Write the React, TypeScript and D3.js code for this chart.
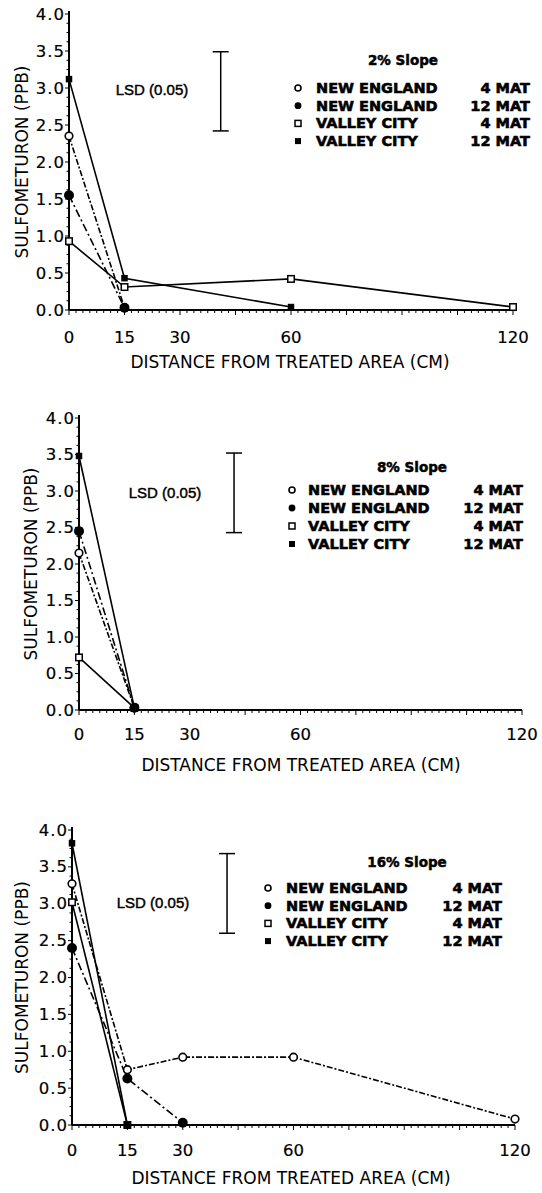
import * as d3 from 'd3';
import React from 'react';

// tick labels
const xTickValues = [0, 15, 30, 60, 120];
const yTickValues = [0, 0.5, 1, 1.5, 2, 2.5, 3, 3.5, 4];

// legend
const legendSites = ['NEW ENGLAND', 'NEW ENGLAND', 'VALLEY CITY', 'VALLEY CITY'];
const legendMats = ['4 MAT', '12 MAT', '4 MAT', '12 MAT'];
const slopeTitles = ['2% Slope', '8% Slope', '16% Slope'];

// [distance (cm), sulfometuron (ppb)]
const slope2NE4 = [[0, 2.35], [15, 0.03]];
const slope2NE12 = [[0, 1.55], [15, 0.03]];
const slope2VC4 = [[0, 0.93], [15, 0.31], [60, 0.42], [120, 0.04]];
const slope2VC12 = [[0, 3.12], [15, 0.43], [60, 0.04]];

const slope8NE4 = [[0, 2.15], [15, 0.03]];
const slope8NE12 = [[0, 2.45], [15, 0.03]];
const slope8VC4 = [[0, 0.72], [15, 0.03]];
const slope8VC12 = [[0, 3.48], [15, 0.03]];

const slope16NE4 = [[0, 3.27], [15, 0.75], [30, 0.92], [60, 0.92], [120, 0.08]];
const slope16NE12 = [[0, 2.4], [15, 0.63], [30, 0.03]];
const slope16VC4 = [[0, 3.02], [15, 0.0]];
const slope16VC12 = [[0, 3.82], [15, 0.0]];

// LSD bar: [x position (cm), low, high]
const lsd2 = [41, 2.42, 3.49];
const lsd8 = [42, 2.43, 3.52];
const lsd16 = [42, 2.6, 3.68];

const seriesBySlope = [
  [slope2NE4, slope2NE12, slope2VC4, slope2VC12],
  [slope8NE4, slope8NE12, slope8VC4, slope8VC12],
  [slope16NE4, slope16NE12, slope16VC4, slope16VC12],
];
const lsdBySlope = [lsd2, lsd8, lsd16];

// where each panel sits on the page
const layouts = [
  { left: 69, right: 513, bottom: 310, top: 14, yTitleX: 22, xLabelY: 337, xTitleY: 362, xTitleX: 290,
    lsdTextX: 152, lsdTextY: 89, legTitleX: 403, legTitleY: 60, legMarkX: 298, legTextX: 316, legMatX: 530, legRowY: 88, legRowH: 17.7 },
  { left: 79, right: 522, bottom: 710, top: 418, yTitleX: 31, xLabelY: 734, xTitleY: 765, xTitleX: 301,
    lsdTextX: 165, lsdTextY: 492, legTitleX: 412, legTitleY: 467, legMarkX: 292, legTextX: 308, legMatX: 523, legRowY: 490, legRowH: 18 },
  { left: 72, right: 515, bottom: 1125, top: 830, yTitleX: 22, xLabelY: 1150, xTitleY: 1178, xTitleX: 291,
    lsdTextX: 153, lsdTextY: 902, legTitleX: 407, legTitleY: 862, legMarkX: 268, legTextX: 286, legMatX: 502, legRowY: 888, legRowH: 17.7 },
];

const dashes = ['6,2,2,2', '8,3,2,3', null, null];
const axisFont = '"DejaVu Sans", sans-serif';

const Marker = ({ kind, x, y, big }) => {
  if (kind === 0) return <circle cx={x} cy={y} r={big ? 3.8 : 3} fill="#fff" stroke="#000" strokeWidth={1.6} />;
  if (kind === 1) return <circle cx={x} cy={y} r={big ? 5 : 3.4} fill="#000" />;
  const s = big ? 6.5 : 6;
  if (kind === 2) return <rect x={x - s / 2} y={y - s / 2} width={s} height={s} fill="#fff" stroke="#000" strokeWidth={1.5} />;
  return <rect x={x - s / 2} y={y - s / 2} width={s} height={s} fill="#000" />;
};

const Panel = ({ idx }) => {
  const L = layouts[idx];
  const series = seriesBySlope[idx];
  const lsd = lsdBySlope[idx];
  const x = d3.scaleLinear().domain([0, 120]).range([L.left, L.right]);
  const y = d3.scaleLinear().domain([0, 4]).range([L.bottom, L.top]);
  const line = d3.line().x(d => x(d[0])).y(d => y(d[1]));

  const xMinor = d3.range(0, 120.001, 1.875);
  const yMinor = d3.range(0, 4.001, 0.125);

  return (
    <g>
      {/* axes */}
      <line x1={x(0)} x2={x(0)} y1={y(0)} y2={y(4) - 3} stroke="#000" strokeWidth={2} />
      <line x1={x(0)} x2={x(120)} y1={y(0)} y2={y(0)} stroke="#000" strokeWidth={2} />
      {xMinor.map((t, i) => (
        <line key={'xt' + i} x1={x(t)} x2={x(t)} y1={y(0)} y2={y(0) + (t % 15 === 0 ? 5 : 3)} stroke="#000" strokeWidth={1} />
      ))}
      {yMinor.map((t, i) => (
        <line key={'yt' + i} x1={x(0)} x2={x(0) - (Math.abs(t * 2 - Math.round(t * 2)) < 1e-6 ? 4 : 2.5)} y1={y(t)} y2={y(t)} stroke="#000" strokeWidth={1} />
      ))}
      {xTickValues.map(t => (
        <text key={'xl' + t} x={x(t)} y={L.xLabelY} textAnchor="middle" dominantBaseline="central"
          fontFamily={axisFont} fontSize={16.5} stroke="#000" strokeWidth={0.2}>{t}</text>
      ))}
      {yTickValues.map(t => (
        <text key={'yl' + t} x={x(0) - 4} y={y(t)} textAnchor="end" dominantBaseline="central"
          fontFamily={axisFont} fontSize={16.5} letterSpacing={1} stroke="#000" strokeWidth={0.2}>{t.toFixed(1)}</text>
      ))}
      <text x={L.xTitleX} y={L.xTitleY} textAnchor="middle" dominantBaseline="central"
        fontFamily={axisFont} fontSize={17}>DISTANCE FROM TREATED AREA (CM)</text>
      <text transform={`translate(${L.yTitleX},${(y(0) + y(4)) / 2}) rotate(-90)`} textAnchor="middle"
        dominantBaseline="central" fontFamily={axisFont} fontSize={17}>SULFOMETURON (PPB)</text>

      {/* LSD */}
      <line x1={x(lsd[0])} x2={x(lsd[0])} y1={y(lsd[1])} y2={y(lsd[2])} stroke="#000" strokeWidth={1.5} />
      <line x1={x(lsd[0]) - 8} x2={x(lsd[0]) + 8} y1={y(lsd[1])} y2={y(lsd[1])} stroke="#000" strokeWidth={1.5} />
      <line x1={x(lsd[0]) - 8} x2={x(lsd[0]) + 8} y1={y(lsd[2])} y2={y(lsd[2])} stroke="#000" strokeWidth={1.5} />
      <text x={L.lsdTextX} y={L.lsdTextY} textAnchor="middle" dominantBaseline="central"
        fontFamily='"Liberation Sans", Arial, sans-serif' fontSize={15} stroke="#000" strokeWidth={0.45}>LSD (0.05)</text>

      {/* lines */}
      {series.map((s, i) => (
        <path key={'s' + i} d={line(s)} fill="none" stroke="#000" strokeWidth={1.6}
          strokeDasharray={dashes[i] || undefined} />
      ))}
      {series.map((s, i) => s.map((p, j) => (
        <Marker key={'m' + i + '-' + j} kind={i} x={x(p[0])} y={y(p[1])} big />
      )))}

      {/* legend */}
      <text x={L.legTitleX} y={L.legTitleY} textAnchor="middle" dominantBaseline="central"
        fontFamily={axisFont} fontWeight="bold" fontSize={13.5} stroke="#000" strokeWidth={0.5}>{slopeTitles[idx]}</text>
      {legendSites.map((site, i) => {
        const ry = L.legRowY + i * L.legRowH;
        return (
          <g key={'lg' + i}>
            <Marker kind={i} x={L.legMarkX} y={ry} />
            <text x={L.legTextX} y={ry} dominantBaseline="central" fontFamily={axisFont} fontWeight="bold"
              fontSize={14.5} stroke="#000" strokeWidth={0.6}>{site}</text>
            <text x={L.legMatX} y={ry} textAnchor="end" dominantBaseline="central" fontFamily={axisFont}
              fontWeight="bold" fontSize={14.5} stroke="#000" strokeWidth={0.6}>{legendMats[i]}</text>
          </g>
        );
      })}
    </g>
  );
};

const App = () => {
  return (
    <svg width={542} height={1193} style={{ position: 'absolute', left: 0, top: 0, background: '#fff' }}>
      <rect width={542} height={1193} fill="#fff" />
      {slopeTitles.map((t, i) => <Panel key={t} idx={i} />)}
    </svg>
  );
};

export default App;
